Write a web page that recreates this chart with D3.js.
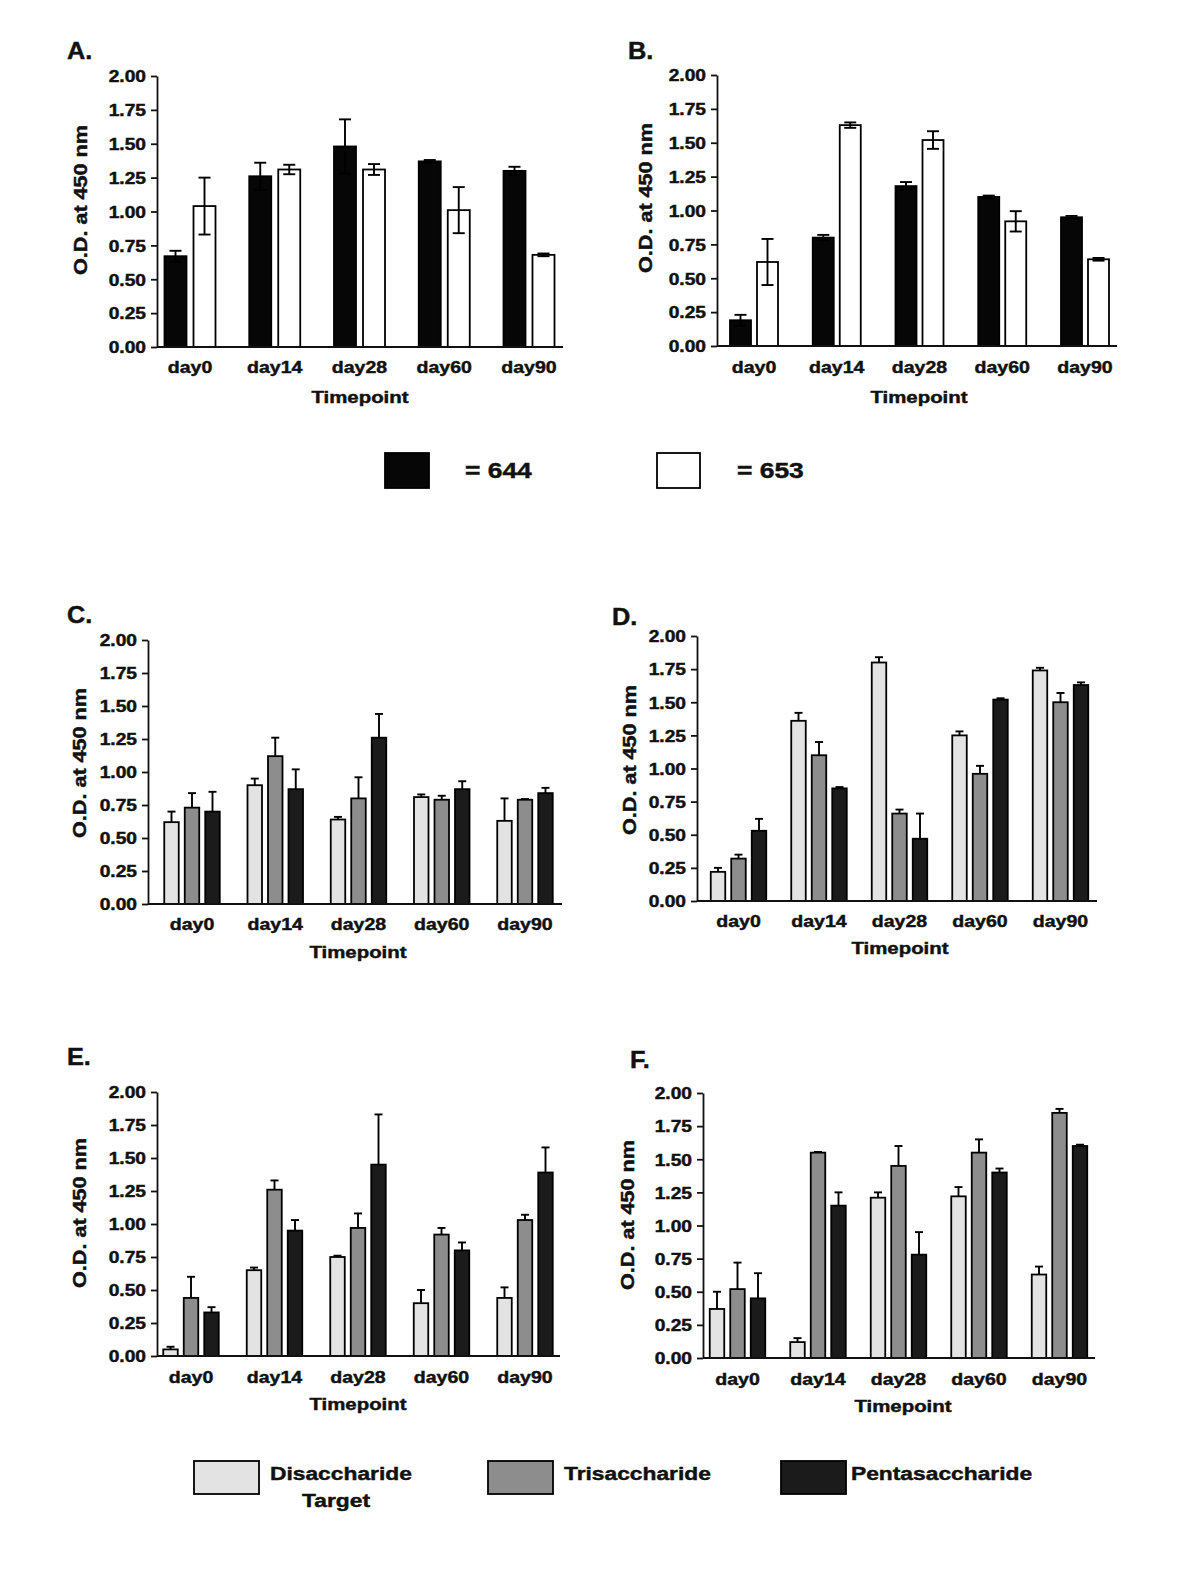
<!DOCTYPE html>
<html><head><meta charset="utf-8">
<script src="https://cdn.jsdelivr.net/npm/d3@7"></script>
<style>
html,body{margin:0;padding:0;background:#fff;}
svg{display:block;}
text{font-family:"Liberation Sans",Arial,Helvetica,sans-serif;font-weight:bold;fill:#111;stroke:#111;stroke-width:0.45px;}
</style></head><body>
<svg id="fig" width="1200" height="1580"></svg>
<script>
// ---------- DATA ----------
const categories = ["day0", "day14", "day28", "day60", "day90"];
const yTickValues = [0.00, 0.25, 0.50, 0.75, 1.00, 1.25, 1.50, 1.75, 2.00];
const yTitle = "O.D. at 450 nm";
const xTitle = "Timepoint";

// Panel A
const a644 = [0.67, 1.26, 1.48, 1.37, 1.30];
const a644Err = [0.04, 0.10, 0.20, 0.01, 0.03];
const a653 = [1.04, 1.31, 1.31, 1.01, 0.68];
const a653Err = [0.21, 0.035, 0.04, 0.17, 0.01];
// Panel B
const b644 = [0.19, 0.80, 1.18, 1.10, 0.95];
const b644Err = [0.04, 0.02, 0.03, 0.01, 0.01];
const b653 = [0.62, 1.63, 1.52, 0.92, 0.64];
const b653Err = [0.17, 0.02, 0.065, 0.075, 0.01];
// Panel C
const cDi = [0.62, 0.90, 0.64, 0.81, 0.63];
const cDiErr = [0.08, 0.05, 0.02, 0.02, 0.17];
const cTri = [0.73, 1.12, 0.80, 0.79, 0.79];
const cTriErr = [0.11, 0.14, 0.16, 0.03, 0.005];
const cPenta = [0.70, 0.87, 1.26, 0.87, 0.84];
const cPentaErr = [0.15, 0.15, 0.18, 0.06, 0.04];
// Panel D
const dDi = [0.22, 1.36, 1.80, 1.25, 1.74];
const dDiErr = [0.03, 0.06, 0.04, 0.03, 0.02];
const dTri = [0.32, 1.10, 0.66, 0.96, 1.50];
const dTriErr = [0.03, 0.10, 0.03, 0.06, 0.07];
const dPenta = [0.53, 0.85, 0.47, 1.52, 1.63];
const dPentaErr = [0.09, 0.01, 0.19, 0.01, 0.02];
// Panel E
const eDi = [0.05, 0.65, 0.75, 0.40, 0.44];
const eDiErr = [0.02, 0.02, 0.01, 0.10, 0.08];
const eTri = [0.44, 1.26, 0.97, 0.92, 1.03];
const eTriErr = [0.16, 0.07, 0.11, 0.05, 0.04];
const ePenta = [0.33, 0.95, 1.45, 0.80, 1.39];
const ePentaErr = [0.04, 0.08, 0.38, 0.06, 0.19];
// Panel F
const fDi = [0.37, 0.12, 1.21, 1.22, 0.63];
const fDiErr = [0.13, 0.03, 0.04, 0.07, 0.06];
const fTri = [0.52, 1.55, 1.45, 1.55, 1.85];
const fTriErr = [0.20, 0.005, 0.15, 0.10, 0.03];
const fPenta = [0.45, 1.15, 0.78, 1.40, 1.60];
const fPentaErr = [0.19, 0.10, 0.17, 0.03, 0.01];

const legend1Labels = ["= 644", "= 653"];
const legend2Labels = ["Disaccharide", "Trisaccharide", "Pentasaccharide"];
const legend2Sub = "Target";

// ---------- STYLE / LAYOUT ----------
const FILL644 = "#060606", FILL653 = "#ffffff";
const FILLDI = "#e3e3e3", FILLTRI = "#8d8d8d", FILLPENTA = "#1b1b1b";
const SX = 1.2; // horizontal glyph stretch seen in the figure

const panels = [
  {letter:"A.", lx:67, ly:51, ax:157, y0:347, y2:76, xEnd:563, c0:190, step:84.75, bw:22, gap:7, cap:12, two:true,
   tX:80.5, tY:200, dayY:368, tpY:397, tpX:360,
   series:[{v:a644,e:a644Err,f:FILL644},{v:a653,e:a653Err,f:FILL653}]},
  {letter:"B.", lx:628, ly:51, ax:717, y0:346, y2:75, xEnd:1117, c0:754, step:82.75, bw:21, gap:6, cap:12, two:true,
   tX:646, tY:198, dayY:368, tpY:397, tpX:919,
   series:[{v:b644,e:b644Err,f:FILL644},{v:b653,e:b653Err,f:FILL653}]},
  {letter:"C.", lx:67, ly:615, ax:148, y0:904, y2:640, xEnd:562, c0:192, step:83.25, bw:14.5, gap:6, cap:8, two:false,
   tX:79.5, tY:763, dayY:925, tpY:952, tpX:358,
   series:[{v:cDi,e:cDiErr,f:FILLDI},{v:cTri,e:cTriErr,f:FILLTRI},{v:cPenta,e:cPentaErr,f:FILLPENTA}]},
  {letter:"D.", lx:612, ly:617, ax:697, y0:901, y2:636, xEnd:1097, c0:738.5, step:80.5, bw:14.5, gap:6, cap:8, two:false,
   tX:630, tY:760, dayY:922, tpY:948, tpX:900,
   series:[{v:dDi,e:dDiErr,f:FILLDI},{v:dTri,e:dTriErr,f:FILLTRI},{v:dPenta,e:dPentaErr,f:FILLPENTA}]},
  {letter:"E.", lx:67, ly:1057, ax:157, y0:1356, y2:1092, xEnd:560, c0:191, step:83.5, bw:14.5, gap:6, cap:8, two:false,
   tX:79.5, tY:1213, dayY:1378, tpY:1404, tpX:358,
   series:[{v:eDi,e:eDiErr,f:FILLDI},{v:eTri,e:eTriErr,f:FILLTRI},{v:ePenta,e:ePentaErr,f:FILLPENTA}]},
  {letter:"F.", lx:630, ly:1060, ax:703, y0:1358, y2:1093, xEnd:1095, c0:737.5, step:80.5, bw:14.5, gap:6, cap:8, two:false,
   tX:628, tY:1215, dayY:1380, tpY:1406, tpX:903,
   series:[{v:fDi,e:fDiErr,f:FILLDI},{v:fTri,e:fTriErr,f:FILLTRI},{v:fPenta,e:fPentaErr,f:FILLPENTA}]}
];

const svg = d3.select("#fig");
svg.append("rect").attr("width", 1200).attr("height", 1580).attr("fill", "#fff");

// text centred vertically on y, stretched horizontally
function sText(parent, x, y, str, size, sx, anchor, rot) {
  return parent.append("text")
    .attr("transform", `translate(${x},${y})${rot ? " rotate(" + rot + ")" : ""} scale(${sx},1)`)
    .attr("text-anchor", anchor || "start")
    .attr("dy", "0.36em")
    .attr("font-size", size)
    .text(str);
}

function drawPanel(p) {
  const g = svg.append("g");
  const y = d3.scaleLinear().domain([0, 2]).range([p.y0, p.y2]);
  const x0 = d3.scaleBand().domain(categories)
    .range([p.c0 - p.step / 2, p.c0 + p.step * (categories.length - 0.5)]).padding(0);
  const n = p.series.length;
  const G = n * (p.bw + p.gap) - p.gap;
  const x1 = d3.scaleBand().domain(d3.range(n)).range([0, G])
    .paddingInner(p.gap / (p.bw + p.gap)).paddingOuter(0);
  const groupLeft = c => x0(c) + x0.bandwidth() / 2 - G / 2;

  // bars
  p.series.forEach((s, si) => {
    g.append("g").selectAll("rect").data(categories).join("rect")
      .attr("x", (c) => groupLeft(c) + x1(si))
      .attr("y", (c, i) => y(s.v[i]))
      .attr("width", x1.bandwidth())
      .attr("height", (c, i) => p.y0 - y(s.v[i]))
      .attr("fill", s.f)
      .attr("stroke", "#000")
      .attr("stroke-width", 1.8);
  });
  // error bars
  p.series.forEach((s, si) => {
    const eg = g.append("g").attr("stroke", "#000").attr("stroke-width", 1.9);
    categories.forEach((c, i) => {
      const cx = groupLeft(c) + x1(si) + x1.bandwidth() / 2;
      const top = y(s.v[i] + s.e[i]);
      const bot = p.two ? y(s.v[i] - s.e[i]) : y(s.v[i]);
      eg.append("line").attr("x1", cx).attr("x2", cx).attr("y1", top).attr("y2", bot);
      eg.append("line").attr("x1", cx - p.cap / 2).attr("x2", cx + p.cap / 2).attr("y1", top).attr("y2", top);
      if (p.two) {
        eg.append("line").attr("x1", cx - p.cap / 2).attr("x2", cx + p.cap / 2).attr("y1", bot).attr("y2", bot);
      }
    });
  });

  // y axis
  const ya = g.append("g").attr("transform", `translate(${p.ax},0)`)
    .call(d3.axisLeft(y).tickValues(yTickValues).tickFormat(d3.format(".2f"))
      .tickSize(6).tickSizeOuter(0).tickPadding(4));
  ya.select(".domain").attr("stroke", "#111").attr("stroke-width", 1.8);
  ya.selectAll(".tick line").attr("stroke", "#111").attr("stroke-width", 1.8);
  ya.selectAll(".tick text").attr("font-size", 16).attr("font-family", null)
    .attr("fill", "#111").attr("x", null).attr("dy", "0.36em")
    .attr("transform", `translate(-11,0) scale(${SX},1)`);

  // x axis line
  g.append("line").attr("x1", p.ax).attr("x2", p.xEnd).attr("y1", p.y0).attr("y2", p.y0)
    .attr("stroke", "#111").attr("stroke-width", 1.8);
  // x labels
  const xa = g.append("g").attr("transform", `translate(0,${p.y0})`)
    .call(d3.axisBottom(x0).tickSize(0).tickPadding(0));
  xa.select(".domain").remove();
  xa.selectAll(".tick text").attr("font-size", 17).attr("font-family", null)
    .attr("fill", "#111").attr("y", null).attr("dy", "0.3em")
    .attr("transform", `translate(0,${p.dayY - p.y0}) scale(1.15,1)`);

  // titles
  sText(g, p.tpX, p.tpY, xTitle, 17, SX, "middle");
  sText(g, p.tX, p.tY, yTitle, 18, 1.2, "middle", -90);
  sText(g, p.lx, p.ly, p.letter, 23, 1.1, "start");
}
panels.forEach(drawPanel);

// legend 1
const l1 = svg.append("g");
const l1Items = [{x:385, w:44, f:FILL644, tx:465}, {x:657, w:43, f:FILL653, tx:737}];
l1Items.forEach((it, i) => {
  l1.append("rect").attr("x", it.x).attr("y", 453).attr("width", it.w).attr("height", 35)
    .attr("fill", it.f).attr("stroke", "#000").attr("stroke-width", 1.8);
  sText(l1, it.tx, 470, legend1Labels[i], 22, SX, "start");
});

// legend 2
const l2 = svg.append("g");
const l2Items = [{x:194, f:FILLDI, tx:270}, {x:488, f:FILLTRI, tx:564}, {x:781, f:FILLPENTA, tx:851}];
l2Items.forEach((it, i) => {
  l2.append("rect").attr("x", it.x).attr("y", 1461).attr("width", 65).attr("height", 33)
    .attr("fill", it.f).attr("stroke", "#000").attr("stroke-width", 1.8);
  sText(l2, it.tx, 1473, legend2Labels[i], 19, SX, "start");
});
sText(l2, 336, 1500, legend2Sub, 19, SX, "middle");
</script>
</body></html>
